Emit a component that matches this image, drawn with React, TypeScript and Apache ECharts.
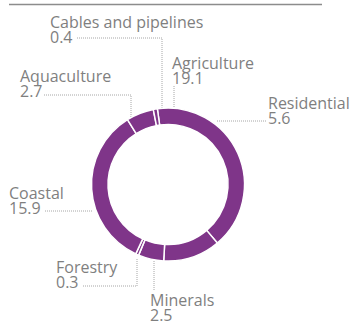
import React, { useEffect, useRef } from "react";
import * as echarts from "echarts";

const categories = ["Agriculture", "Residential", "Minerals", "Forestry", "Coastal", "Aquaculture", "Cables and pipelines"];
const values = [19.1, 5.6, 2.5, 0.3, 15.9, 2.7, 0.4];

// label placement (layout only)
const labelPlacement: { x: number; y: number; line: number[][] }[] = [
  { x: 172, y: 55.5, line: [[174, 86], [174, 97], [174, 108]] },
  { x: 268, y: 95.5, line: [[266, 121], [240, 121], [217, 121]] },
  { x: 150, y: 292.5, line: [[154, 290], [154, 275], [154, 260]] },
  { x: 56, y: 259.5, line: [[83, 286], [137, 286], [137, 258]] },
  { x: 9, y: 185.5, line: [[45, 211], [70, 211], [93, 211]] },
  { x: 20, y: 68.5, line: [[44, 95], [131, 95], [131, 118]] },
  { x: 50, y: 14, line: [[77, 38], [162, 38], [162, 108]] },
];

export default function App() {
  const ref = useRef<HTMLDivElement>(null);
  useEffect(() => {
    document.body.style.margin = "0";
    const chart = echarts.init(ref.current!, null, { renderer: "svg" });
    chart.setOption({
      animation: false,
      graphic: [
        {
          type: "line",
          shape: { x1: 9, y1: 4.5, x2: 322, y2: 4.5 },
          style: { stroke: "#8c8c8c", lineWidth: 1.5 },
        },
      ],
      series: [
        {
          type: "pie",
          center: [168, 184.5],
          radius: [60, 76.5],
          startAngle: 98,
          clockwise: true,
          avoidLabelOverlap: false,
          itemStyle: { color: "#7f3589", borderColor: "#ffffff", borderWidth: 1.5 },
          label: {
            show: true,
            position: "outside",
            formatter: "{b}\n{c}",
            color: "#7f7f7f",
            fontFamily: "Open Sans",
            fontSize: 16,
            lineHeight: 15,
          },
          labelLine: {
            show: true,
            lineStyle: { color: "#a6a6a6", type: "dotted", width: 1 },
          },
          labelLayout: (params: any) => {
            const p = labelPlacement[params.dataIndex];
            return {
              x: p.x,
              y: p.y,
              align: "left",
              verticalAlign: "top",
              labelLinePoints: p.line,
            };
          },
          emphasis: { disabled: true },
          data: categories.map((c, i) => ({ name: c, value: values[i] })),
        },
      ],
    });
    return () => chart.dispose();
  }, []);
  return <div ref={ref} style={{ width: 354, height: 322 }} />;
}
